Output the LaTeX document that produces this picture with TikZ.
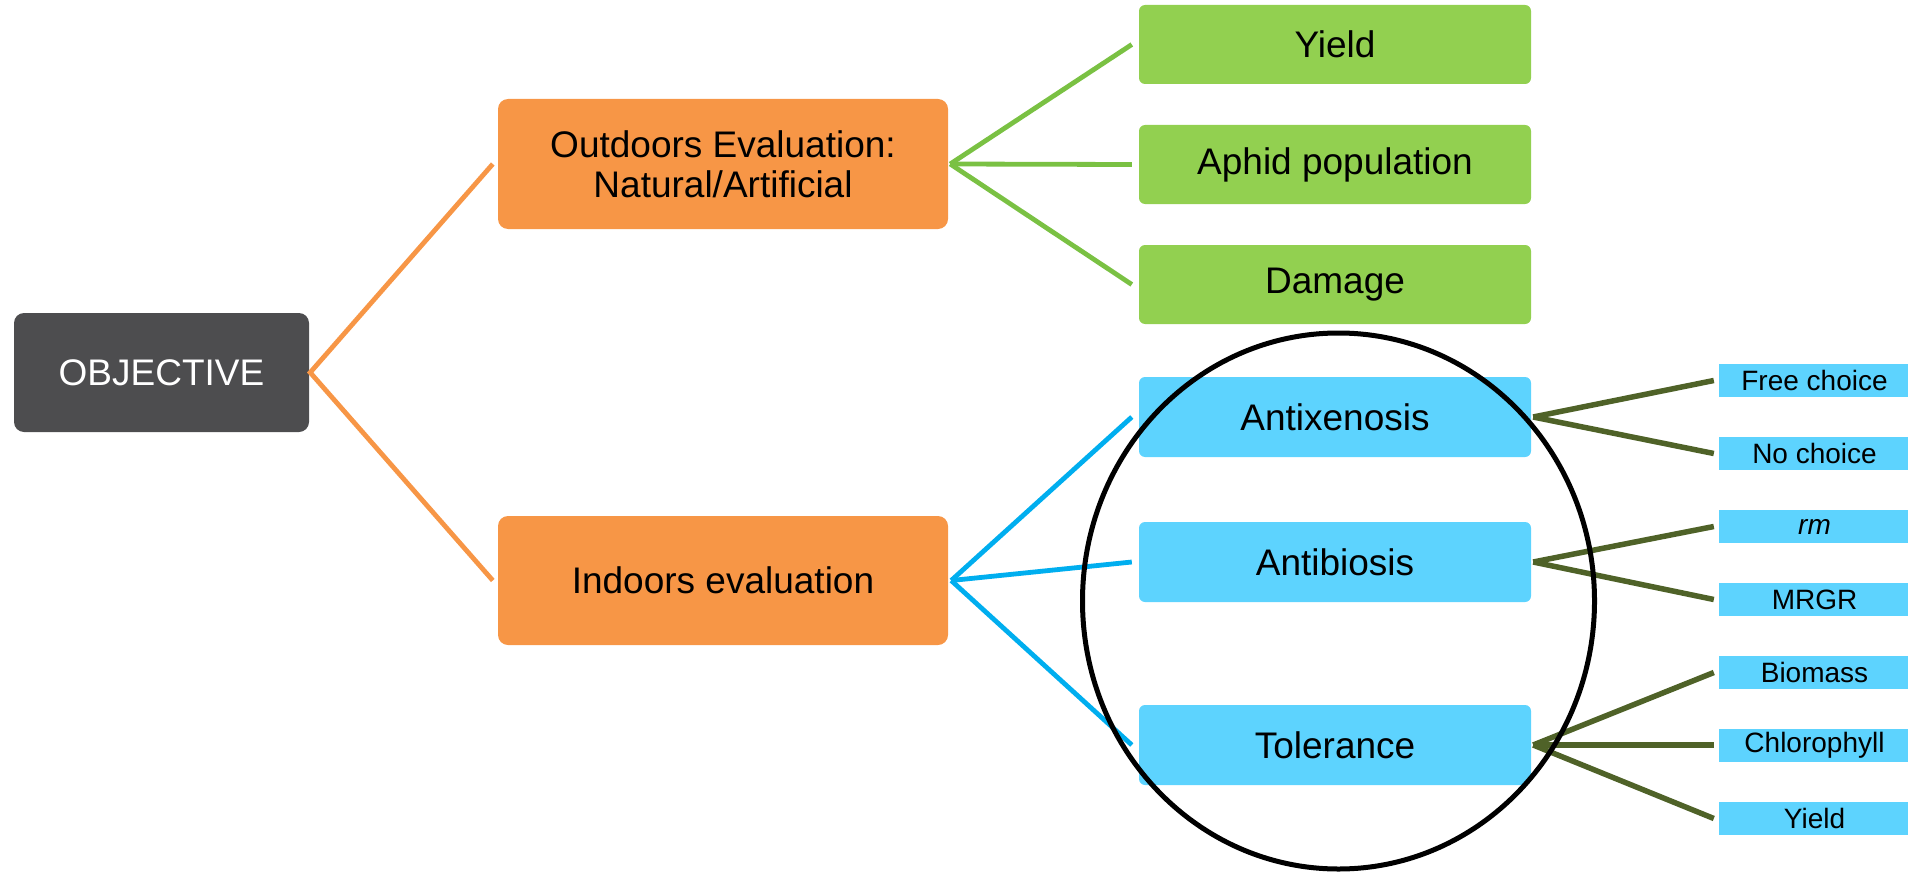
\documentclass[tikz,border=0pt]{standalone}
\usepackage{fontspec}
\setmainfont{Liberation Sans}
\definecolor{objgray}{HTML}{4D4D4F}
\definecolor{orangebox}{HTML}{F79646}
\definecolor{greenbox}{HTML}{92D050}
\definecolor{greenline}{HTML}{7AC143}
\definecolor{bluebox}{HTML}{5DD3FE}
\definecolor{blueline}{HTML}{00AEEF}
\definecolor{oliveline}{HTML}{4F6228}
\tikzset{
  basebox/.style={inner sep=0pt, align=center, font=\fontsize{37}{40}\selectfont},
  objbox/.style={basebox, fill=objgray, text=white, rounded corners=10pt, minimum width=295pt, minimum height=119pt},
  evalbox/.style={basebox, fill=orangebox, rounded corners=10pt, minimum width=450pt, minimum height=129pt},
  greenbox/.style={basebox, fill=greenbox, rounded corners=6pt, minimum width=392pt, minimum height=79pt},
  bluebox/.style={basebox, fill=bluebox, rounded corners=6pt, minimum width=392pt, minimum height=80pt},
  smallbox/.style={inner sep=0pt, fill=bluebox, minimum width=191pt, minimum height=33pt, font=\fontsize{28}{30}\selectfont},
  orangelink/.style={draw=orangebox, line width=4.8pt},
  greenlink/.style={draw=greenline, line width=4.8pt},
  bluelink/.style={draw=blueline, line width=4.8pt},
  olivelink/.style={draw=oliveline, line width=5.5pt},
}
\begin{document}
\begin{tikzpicture}[x=1pt,y=-1pt]
\useasboundingbox (0,0) rectangle (1908,872);
% nodes
\node[objbox] (obj) at (161.5,372.5) {OBJECTIVE};
\node[evalbox, minimum height=130pt] (outd) at (723,164) {Outdoors Evaluation:\\Natural/Artificial};
\node[evalbox] (ind) at (723,580.5) {Indoors evaluation};
\node[greenbox] (g1) at (1335,44.5) {Yield};
\node[greenbox] (g2) at (1335,164.5) {Aphid population};
\node[greenbox] (g3) at (1335,284.5) {Damage};
\node[bluebox] (b1) at (1335,417) {Antixenosis};
\node[bluebox] (b2) at (1335,562) {Antibiosis};
\node[bluebox] (b3) at (1335,745) {Tolerance};
\node[smallbox] (s1) at (1814.5,380.5) {Free choice};
\node[smallbox] (s2) at (1814.5,453.5) {No choice};
\node[smallbox] (s3) at (1814.5,526.5) {\itshape rm};
\node[smallbox] (s4) at (1814.5,599.5) {MRGR};
\node[smallbox] (s5) at (1814.5,672.5) {Biomass};
\node[smallbox] (s6) at (1814.5,745) {Chlorophyll};
\node[smallbox] (s7) at (1814.5,818.5) {Yield};
% connector hubs
\coordinate (hobj) at ([xshift=1pt]obj.east);
\coordinate (hout) at ([xshift=2pt]outd.east);
\coordinate (hind) at ([xshift=3pt]ind.east);
\coordinate (hb1) at ([xshift=2pt]b1.east);
\coordinate (hb2) at ([xshift=2pt]b2.east);
\coordinate (hb3) at ([xshift=2pt]b3.east);
% connectors
\draw[orangelink] ([xshift=-5pt]outd.west) -- (hobj) -- ([xshift=-5pt]ind.west);
\draw[greenlink] (hout) -- ([xshift=-7pt]g1.west);
\draw[greenlink] (hout) -- ([xshift=-7pt]g2.west);
\draw[greenlink] (hout) -- ([xshift=-7pt]g3.west);
\draw[bluelink] (hind) -- ([xshift=-7pt]b1.west);
\draw[bluelink] (hind) -- ([xshift=-7pt]b2.west);
\draw[bluelink] (hind) -- ([xshift=-7pt]b3.west);
\draw[olivelink] (hb1) -- ([xshift=-5pt]s1.west);
\draw[olivelink] (hb1) -- ([xshift=-5pt]s2.west);
\draw[olivelink] (hb2) -- ([xshift=-5pt]s3.west);
\draw[olivelink] (hb2) -- ([xshift=-5pt]s4.west);
\draw[olivelink] (hb3) -- ([xshift=-5pt]s5.west);
\draw[olivelink] (hb3) -- ([xshift=-5pt]s6.west);
\draw[olivelink] (hb3) -- ([xshift=-5pt]s7.west);
% highlight ellipse
\draw[black, line width=5pt] (1338.5,601) ellipse [x radius=256pt, y radius=268pt];
\end{tikzpicture}
\end{document}
